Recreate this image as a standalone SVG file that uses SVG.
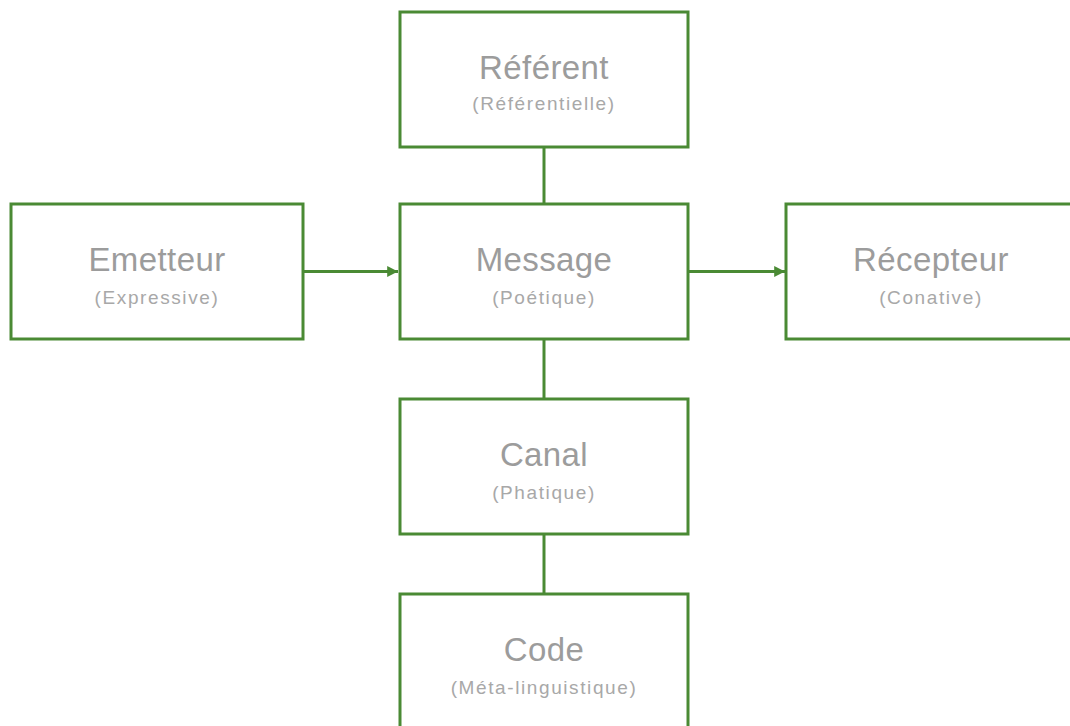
<svg xmlns="http://www.w3.org/2000/svg" width="1070" height="726" viewBox="0 0 1070 726">
<defs>
<style>
.box{fill:#fff;stroke:#4a8a34;stroke-width:3}
.t{font-family:"Liberation Sans",Arial,sans-serif;font-size:33px;fill:#9c9c9c;text-anchor:middle;letter-spacing:0.4px}
.s{font-family:"Liberation Sans",Arial,sans-serif;font-size:19px;fill:#a8a8a8;text-anchor:middle;letter-spacing:1.6px}
.c{stroke:#4a8a34;stroke-width:3;fill:none}
</style>
<marker id="ah" viewBox="0 0 10 10" refX="10" refY="5" markerWidth="3.8" markerHeight="3.6" orient="auto" markerUnits="strokeWidth">
<path d="M0,0 L10,5 L0,10 z" fill="#4a8a34"/>
</marker>
</defs>
<rect width="1070" height="726" fill="#fff"/>
<g id="connectors">
<line class="c" x1="544" y1="146" x2="544" y2="204"/>
<line class="c" x1="544" y1="339" x2="544" y2="399"/>
<line class="c" x1="544" y1="534" x2="544" y2="594"/>
<line class="c" x1="303" y1="271.5" x2="398" y2="271.5" marker-end="url(#ah)"/>
<line class="c" x1="688" y1="271.5" x2="785" y2="271.5" marker-end="url(#ah)"/>
</g>
<g id="referent">
<rect class="box" x="400" y="12" width="288" height="135"/>
<text class="t" x="544" y="79">Référent</text>
<text class="s" x="544" y="110">(Référentielle)</text>
</g>
<g id="emetteur">
<rect class="box" x="11" y="204" width="292" height="135"/>
<text class="t" x="157" y="271">Emetteur</text>
<text class="s" x="157" y="304">(Expressive)</text>
</g>
<g id="message">
<rect class="box" x="400" y="204" width="288" height="135"/>
<text class="t" x="544" y="271">Message</text>
<text class="s" x="544" y="304">(Poétique)</text>
</g>
<g id="recepteur">
<rect class="box" x="786" y="204" width="290" height="135"/>
<text class="t" x="931" y="271">Récepteur</text>
<text class="s" x="931" y="304">(Conative)</text>
</g>
<g id="canal">
<rect class="box" x="400" y="399" width="288" height="135"/>
<text class="t" x="544" y="466">Canal</text>
<text class="s" x="544" y="499">(Phatique)</text>
</g>
<g id="code">
<rect class="box" x="400" y="594" width="288" height="150"/>
<text class="t" x="544" y="661">Code</text>
<text class="s" x="544" y="694">(Méta-linguistique)</text>
</g>
</svg>
